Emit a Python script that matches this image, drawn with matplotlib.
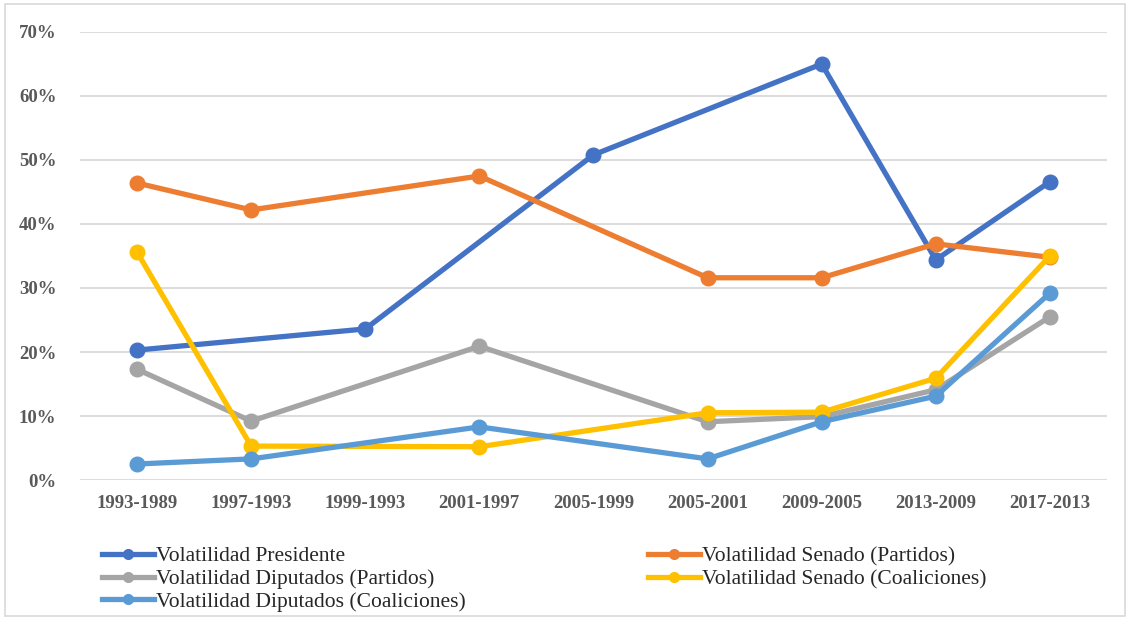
import numpy as np
import matplotlib.pyplot as plt
from matplotlib.lines import Line2D
from matplotlib.ticker import PercentFormatter

plt.rcParams['font.family'] = ['Liberation Serif', 'DejaVu Serif']

periods = ["1993-1989", "1997-1993", "1999-1993", "2001-1997", "2005-1999",
           "2005-2001", "2009-2005", "2013-2009", "2017-2013"]

presidente = [20.3, None, 23.6, None, 50.8, None, 65.0, 34.4, 46.6]
senado_partidos = [46.4, 42.2, None, 47.5, None, 31.6, 31.6, 36.9, 34.8]
diputados_partidos = [17.3, 9.2, None, 20.9, None, 9.1, 9.9, 14.1, 25.5]
senado_coaliciones = [35.6, 5.3, None, 5.2, None, 10.5, 10.6, 15.9, 35.0]
diputados_coaliciones = [2.5, 3.3, None, 8.3, None, 3.3, 9.1, 13.1, 29.2]

series = [
    ("Volatilidad Presidente", presidente, "#4472C4"),
    ("Volatilidad Senado (Partidos)", senado_partidos, "#ED7D31"),
    ("Volatilidad Diputados (Partidos)", diputados_partidos, "#A5A5A5"),
    ("Volatilidad Senado (Coaliciones)", senado_coaliciones, "#FFC000"),
    ("Volatilidad Diputados (Coaliciones)", diputados_coaliciones, "#5B9BD5"),
]

fig = plt.figure(figsize=(11.3, 6.2), dpi=100)
ax = fig.add_axes([0.0708, 0.2258, 0.9088, 0.7226])

handles = {}
for name, vals, color in series:
    # missing periods are skipped, the line joins the neighbouring points
    x = [i for i, v in enumerate(vals) if v is not None]
    y = [v / 100 for v in vals if v is not None]
    ax.plot(x, y, color=color, lw=3.8, marker="o", ms=10.5, zorder=3)
    handles[name] = Line2D([], [], color=color, lw=3.8, marker="o", ms=7)

ax.set_xlim(-0.5, len(periods) - 0.5)
ax.set_ylim(0, 0.7)
ax.set_yticks(np.arange(0, 0.71, 0.1))
ax.yaxis.set_major_formatter(PercentFormatter(1.0, decimals=0))
ax.set_xticks(range(len(periods)))
ax.set_xticklabels(periods)
ax.grid(axis="y", color="#D9D9D9", lw=1.3, zorder=0)
for s in ax.spines.values():
    s.set_visible(False)
ax.tick_params(length=0, labelsize=13.5, labelcolor="#595959")
ax.tick_params(axis="y", pad=17)
ax.tick_params(axis="x", pad=11)
for t in ax.get_xticklabels() + ax.get_yticklabels():
    t.set_fontweight("bold")

order = ["Volatilidad Presidente", "Volatilidad Diputados (Partidos)",
         "Volatilidad Diputados (Coaliciones)", "Volatilidad Senado (Partidos)",
         "Volatilidad Senado (Coaliciones)"]
fig.legend([handles[n] for n in order], order, ncol=2, frameon=False,
           loc="upper left", bbox_to_anchor=(0.073, 0.15), fontsize=15.5,
           handlelength=2.4, handletextpad=0.1, labelspacing=0.12,
           columnspacing=8.5, labelcolor="#262626")

fig.patches.append(plt.Rectangle((0.004, 0.006), 0.992, 0.988, transform=fig.transFigure,
                                 fill=False, edgecolor="#D9D9D9", lw=1.2))

fig.savefig("out.png", dpi=100)
